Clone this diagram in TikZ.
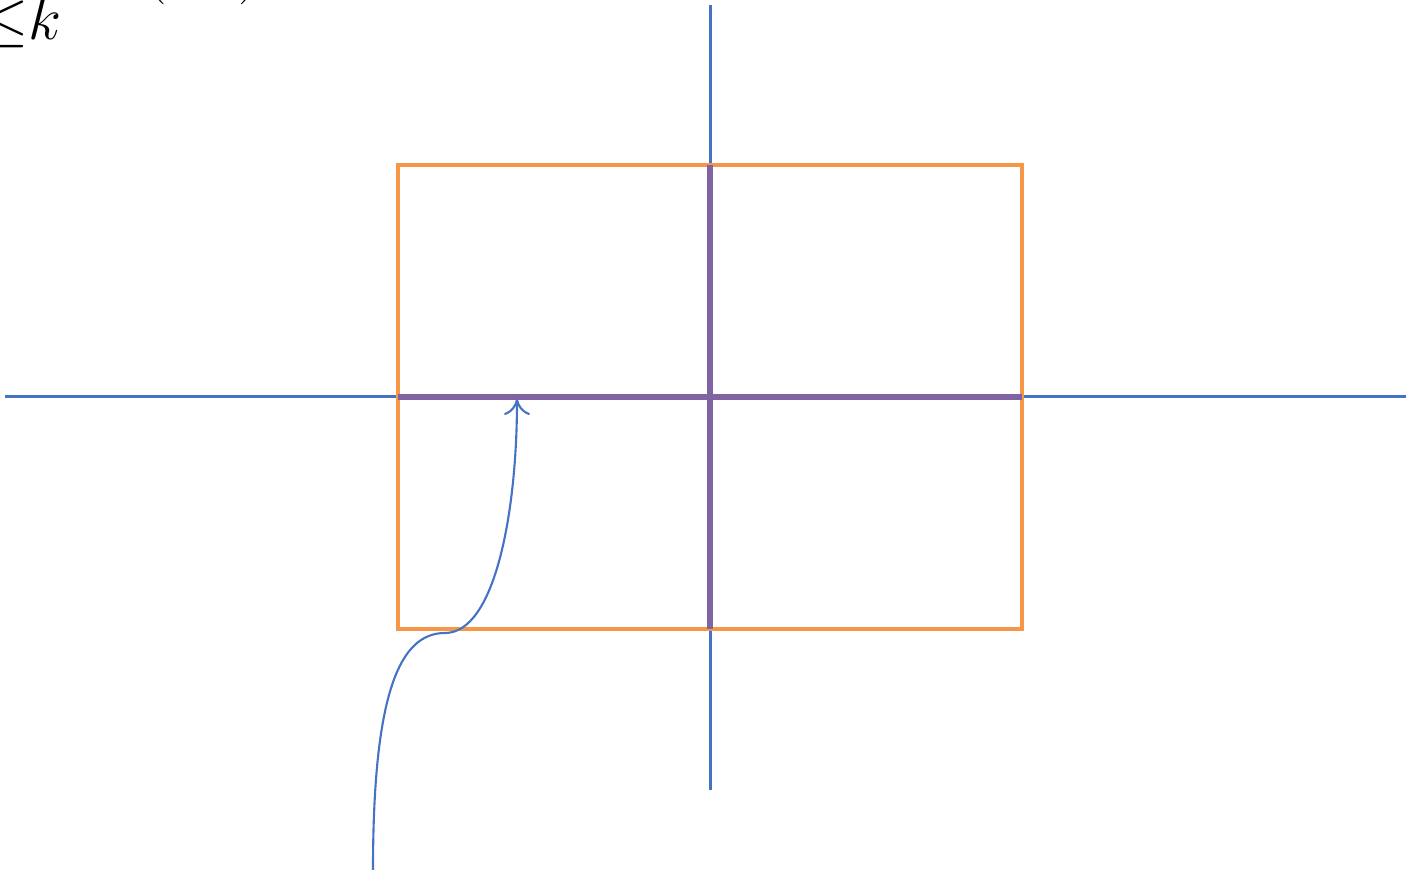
\documentclass[tikz,border=0pt]{standalone}
\usepackage{tikz}
\usetikzlibrary{arrows.meta}
\definecolor{AxisBlue}{RGB}{68,114,196}
\definecolor{BoxOrange}{RGB}{247,150,70}
\definecolor{CrossPurple}{RGB}{128,100,162}

\begin{document}
\begin{tikzpicture}[font=\fontsize{17}{20}\selectfont]
\tikzset{
  axis/.style={AxisBlue, line width=0.85pt},
  box/.style={BoxOrange, line width=1.1pt},
  cross/.style={CrossPurple, line width=1.7pt},
  pointer/.style={AxisBlue, line width=0.6pt, -{To[length=1.6mm,width=2.6mm]}}
}
  \useasboundingbox (0,0) rectangle (14.06,8.72);
  \def\ox{7.10}
  \def\oy{4.75}

  % axes
  \coordinate (xl) at (0.05,\oy);
  \coordinate (xr) at (14.06,\oy);
  \coordinate (yt) at (\ox,8.67);
  \coordinate (yb) at (\ox,0.82);
  \draw[axis] (xl) -- (xr);
  \draw[axis] (yt) -- (yb);

  % box and cross
  \coordinate (bl) at (3.98,2.43);
  \coordinate (tr) at (10.22,7.07);
  \draw[box] (bl) rectangle (tr);
  \draw[cross] (3.98,\oy) -- (10.22,\oy);
  \draw[cross] (\ox,7.07) -- (\ox,2.43);

  % pointer
  \coordinate (tail) at (3.73,0.02);
  \coordinate (tip) at (5.17,4.73);
  \draw[pointer] (tail)
    .. controls (3.73,1.80) and (4.00,2.39) .. (4.45,2.39)
    .. controls (4.95,2.39) and (5.17,3.60) .. (tip);

  % cut-off formula
  \node[anchor=base east, inner sep=0] (bound) at (0.62,8.32) {${\leq}k$};
  \node[anchor=base west, inner sep=0] (upper) at (1.45,8.82) {$\mathbf{(}\hspace{1.2em}\mathbf{)}$};
\end{tikzpicture}
\end{document}
